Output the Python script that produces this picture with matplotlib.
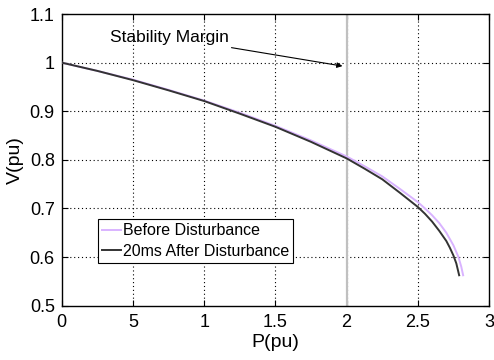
import numpy as np
import matplotlib
matplotlib.use('Agg')
import matplotlib.pyplot as plt

plt.rcParams['font.family'] = ['Liberation Sans', 'DejaVu Sans']

# P-V curves
p_before = [0, 0.25, 0.5, 0.75, 1.0, 1.25, 1.5, 1.75, 2.0, 2.125, 2.25, 2.375, 2.5,
            2.55, 2.6, 2.65, 2.7, 2.75, 2.785, 2.805, 2.818]
v_before = [1.0, 0.983, 0.965, 0.944, 0.922, 0.897, 0.870, 0.840, 0.807, 0.787, 0.766,
            0.740, 0.713, 0.700, 0.686, 0.670, 0.650, 0.624, 0.600, 0.580, 0.5625]
p_after = [0, 0.25, 0.5, 0.75, 1.0, 1.25, 1.5, 1.75, 2.0, 2.125, 2.25, 2.375, 2.5,
           2.55, 2.6, 2.65, 2.7, 2.725, 2.75, 2.77, 2.79]
v_after = [1.0, 0.983, 0.964, 0.943, 0.921, 0.895, 0.868, 0.837, 0.803, 0.782, 0.760,
           0.732, 0.703, 0.689, 0.673, 0.654, 0.633, 0.619, 0.603, 0.587, 0.5625]
margin_p = 2.0

xticks = [0, 0.5, 1, 1.5, 2, 2.5, 3]
xticklabels = ['0', '5', '1', '1.5', '2', '2.5', '3']
yticks = [0.5, 0.6, 0.7, 0.8, 0.9, 1.0, 1.1]
yticklabels = ['0.5', '0.6', '0.7', '0.8', '0.9', '1', '1.1']

fig = plt.figure(figsize=(4.94, 3.6), dpi=100)
ax = fig.add_axes([0.125, 0.151, 0.865, 0.81])

ax.axvline(margin_p, color='#c0c0c0', lw=1.6, zorder=2.5)
ax.plot(p_before, v_before, color='#d9b3ff', lw=1.4, label='Before Disturbance', zorder=3)
ax.plot(p_after, v_after, color='#333333', lw=1.4, label='20ms After Disturbance', zorder=4)

ax.set_xlim(0, 3)
ax.set_ylim(0.5, 1.1)
ax.set_xticks(xticks)
ax.set_xticklabels(xticklabels)
ax.set_yticks(yticks)
ax.set_yticklabels(yticklabels)
ax.tick_params(direction='in', top=True, right=True, labelsize=13, length=4)
ax.tick_params(axis='x', pad=6)
ax.tick_params(axis='y', pad=5)
for x in xticks[1:-1]:
    ax.axvline(x, color='black', linestyle=(0, (1, 2.5)), lw=0.8, zorder=1)
for y in yticks[1:-1]:
    ax.axhline(y, color='black', linestyle=(0, (1, 2.5)), lw=0.8, zorder=1)
for s in ax.spines.values():
    s.set_linewidth(1.0)

ax.set_xlabel('P(pu)', fontsize=14, labelpad=2)
ax.set_ylabel('V(pu)', fontsize=14, labelpad=4)

ax.annotate('Stability Margin', xy=(margin_p - 0.01, 0.992), xytext=(0.34, 1.052),
            fontsize=12.5, va='center',
            arrowprops=dict(arrowstyle='-|>', color='black', lw=0.8, mutation_scale=8,
                            shrinkA=0))

leg = ax.legend(loc='lower left', bbox_to_anchor=(0.085, 0.146), fontsize=11.5,
                frameon=True, fancybox=False, edgecolor='black', framealpha=1,
                borderpad=0.25, handlelength=1.2, handletextpad=0.1, labelspacing=0.35,
                borderaxespad=0)
leg.get_frame().set_linewidth(0.8)

fig.savefig('out.png', dpi=100)
